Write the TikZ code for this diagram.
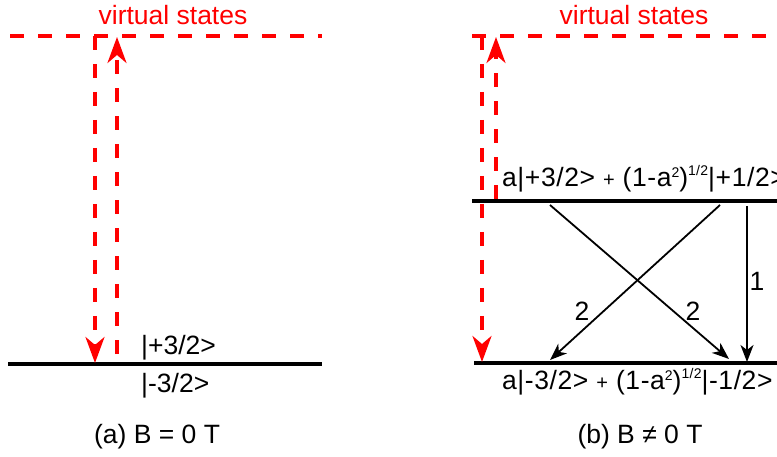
\documentclass[tikz,border=0pt]{standalone}
\usepackage{fontspec}
\setmainfont{Liberation Sans}
\usepackage{xcolor}
\usetikzlibrary{arrows.meta,positioning}
\definecolor{virt}{HTML}{FF0000}
\newcommand{\sps}[2][9pt]{\raisebox{#1}{\fontsize{14}{14}\selectfont #2}}

\begin{document}
\begin{tikzpicture}[x=1pt,y=-1pt,>=Stealth,
    level/.style={draw,line width=3.2pt},
    virtline/.style={draw=virt,line width=3.4pt,dash pattern=on 14pt off 14pt},
    virtarrow/.style={virtline,-{Stealth[length=26pt,width=19pt,inset=8pt]}},
    decay/.style={draw,line width=1.8pt,-{Stealth[length=17pt,width=13pt,inset=5pt]}},
    lbl/.style={font=\fontsize{26.5}{30}\selectfont,inner sep=0pt},
    slbl/.style={font=\fontsize{26.5}{30}\selectfont\addfontfeatures{LetterSpace=2.2},inner sep=0pt},
    vlbl/.style={lbl,text=virt}]
    \useasboundingbox (0,0) rectangle (777,457);
    % (a) B = 0
    \coordinate (vaL) at (10,36);   \coordinate (vaR) at (322,36);
    \coordinate (gaL) at (8,364);   \coordinate (gaR) at (322,364);
    \coordinate (dnAt) at (95,36);  \coordinate (dnAb) at (95,363);
    \coordinate (upAb) at (117,354);\coordinate (upAt) at (117,37);
    \draw[virtline] (vaL)--(vaR);
    \draw[level] (gaL)--(gaR);
    \draw[virtarrow] (dnAt)--(dnAb);
    \draw[virtarrow] (upAb)--(upAt);
    \node[vlbl,anchor=base] (vsA) at (173,25) {virtual states};
    \node[lbl,anchor=base west] (pA) at (141,355) {|+3/2>};
    \node[lbl,anchor=base west] (mA) at (141,392) {|-3/2>};
    \node[lbl,anchor=base] (capA) at (157,443) {(a) B = 0 T};
    % (b) B != 0
    \coordinate (vbL) at (472,36);  \coordinate (vbR) at (777,36);
    \coordinate (ebL) at (472,201); \coordinate (ebR) at (777,201);
    \coordinate (gbL) at (474,363); \coordinate (gbR) at (777,363);
    \coordinate (dnBt) at (482,36); \coordinate (dnBb) at (482,362);
    \coordinate (upBb) at (496,199);\coordinate (upBt) at (496,37);
    \draw[virtline] (vbL)--(vbR);
    \draw[level] (ebL)--(ebR);
    \draw[level] (gbL)--(gbR);
    \draw[virtarrow] (dnBt)--(dnBb);
    \draw[virtarrow] (upBb)--(upBt);
    \node[vlbl,anchor=base] (vsB) at (634,25) {virtual states};
    \node[slbl,anchor=base west] (eB) at (502,187)
        {a|+3/2> {\fontsize{20}{20}\selectfont+} (1-a\sps{2})\sps[11pt]{1/2}|+1/2>};
    \node[slbl,anchor=base west] (gB) at (502,389)
        {a|-3/2> {\fontsize{20}{20}\selectfont+} (1-a\sps{2})\sps[11pt]{1/2}|-1/2>};
    \node[lbl,anchor=base] (capB) at (640,443) {(b) B ≠ 0 T};
    \coordinate (xAs) at (550,205); \coordinate (xAe) at (729,359);
    \coordinate (xBs) at (720,205); \coordinate (xBe) at (550,360);
    \coordinate (vs) at (747,206);  \coordinate (ve) at (747,362);
    \draw[decay] (xAs)--(xAe);
    \draw[decay] (xBs)--(xBe);
    \draw[decay] (vs)--(ve);
    \node[lbl] (nV) at (757,281) {1};
    \node[lbl] (nB) at (582,311) {2};
    \node[lbl] (nA) at (693,311) {2};
\end{tikzpicture}
\end{document}
